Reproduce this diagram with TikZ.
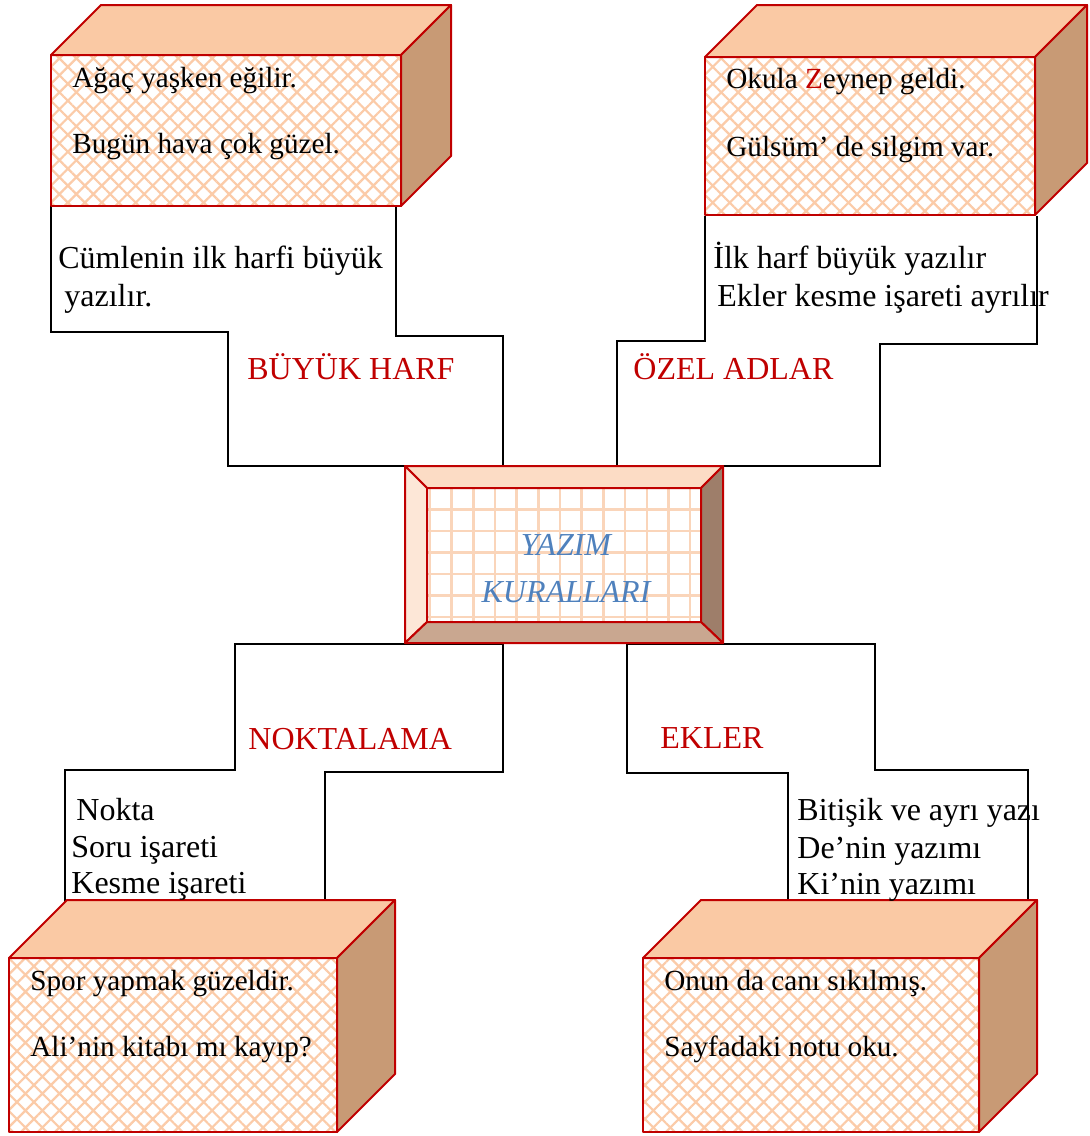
\documentclass[tikz,border=0pt]{standalone}
\usepackage{fontspec}
\setmainfont{Liberation Serif}
\usepackage{tikz}
\usetikzlibrary{patterns.meta}

\definecolor{kirmizi}{HTML}{C00000}
\definecolor{ust}{HTML}{FAC9A4}
\definecolor{yan}{HTML}{C89A75}
\definecolor{desenrenk}{HTML}{FBCBA8}
\definecolor{mavi}{HTML}{4F81BD}
\definecolor{cerceveust}{HTML}{FCDCC5}
\definecolor{cercevesol}{HTML}{FDE7D7}
\definecolor{cercevesag}{HTML}{9E7E6A}
\definecolor{cercevealt}{HTML}{C9A790}
\definecolor{izgararenk}{HTML}{FAD5BA}

% kutu: sol ust kose, sag alt kose, derinlik
\newcommand{\kutu}[5]{%
  \fill[white] (#1,#2) rectangle (#3,#4);
  \fill[pattern={Hatch[angle=45,distance=6pt,line width=1.1pt]}, pattern color=desenrenk] (#1,#2) rectangle (#3,#4);
  \draw[kenar] (#1,#2) rectangle (#3,#4);
  \filldraw[kenar, fill=ust] (#1,#2) -- ({#1+#5},{#2-#5}) -- ({#3+#5},{#2-#5}) -- (#3,#2) -- cycle;
  \filldraw[kenar, fill=yan] (#3,#2) -- ({#3+#5},{#2-#5}) -- ({#3+#5},{#4-#5}) -- (#3,#4) -- cycle;
}

\begin{document}
\begin{tikzpicture}[x=0.5pt, y=-0.5pt,
    kenar/.style={draw=kirmizi, line width=1pt, line join=round},
    hat/.style={draw=black, line width=0.8pt},
    yazi/.style={anchor=base west, inner sep=0pt, font=\fontsize{16}{19}\selectfont},
    ornek/.style={yazi, font=\fontsize{14.6}{17}\selectfont},
    baslik/.style={yazi, text=kirmizi},
    izgara/.style={draw=izgararenk, line width=1.2pt}]
   \useasboundingbox (0,0) rectangle (1090,1136);

   % basamakli hatlar
   \draw[hat] (51,206) -- (51,332) -- (228,332) -- (228,466) -- (503,466) -- (503,336) -- (396,336) -- (396,206);
   \draw[hat] (705,216) -- (705,341) -- (617,341) -- (617,466) -- (880,466) -- (880,344) -- (1037,344) -- (1037,216);
   \draw[hat] (65,905) -- (65,770) -- (235,770) -- (235,644) -- (503,644) -- (503,772) -- (325,772) -- (325,905);
   \draw[hat] (788,905) -- (788,773) -- (627,773) -- (627,644) -- (875,644) -- (875,770) -- (1028,770) -- (1028,905);

   % kutular
   \kutu{51}{55}{401}{206}{50}
   \kutu{705}{57}{1035}{215}{52}
   \kutu{9}{958}{337}{1132}{58}
   \kutu{643}{958}{979}{1132}{58}

   % orta cerceve
   \fill[white] (427,488) rectangle (701,622);
   \begin{scope}
     \clip (427,488) rectangle (701,622);
     \foreach \i in {0,...,12}
       \draw[izgara] ({430+21.67*\i},488) -- ({430+21.67*\i},622);
     \foreach \j in {0,...,6}
       \draw[izgara] (427,{488+21.5*\j}) -- (701,{488+21.5*\j});
   \end{scope}
   \filldraw[kenar, fill=cerceveust] (405,466) -- (723,466) -- (701,488) -- (427,488) -- cycle;
   \filldraw[kenar, fill=cercevesol] (405,466) -- (427,488) -- (427,622) -- (405,643) -- cycle;
   \filldraw[kenar, fill=cercevesag] (723,466) -- (723,643) -- (701,622) -- (701,488) -- cycle;
   \filldraw[kenar, fill=cercevealt] (405,643) -- (723,643) -- (701,622) -- (427,622) -- cycle;
   \draw[kenar] (427,488) rectangle (701,622);
   \node[anchor=base, inner sep=0pt, text=mavi, font=\fontsize{16}{19}\selectfont\itshape] (yazim) at (566,555) {YAZIM};
   \node[anchor=base, inner sep=0pt, text=mavi, font=\fontsize{16}{19}\selectfont\itshape] (kurallari) at (566,602) {KURALLARI};

   % ornek cumleler
   \node[ornek] (agac) at (72,87) {Ağaç yaşken eğilir.};
   \node[ornek] (bugun) at (72,153) {Bugün hava çok güzel.};
   \node[ornek] (okula) at (726,88) {Okula \textcolor{kirmizi}{Z}eynep geldi.};
   \node[ornek] (gulsum) at (726,156) {Gülsüm’ de silgim var.};
   \node[ornek] (spor) at (30,990) {Spor yapmak güzeldir.};
   \node[ornek] (ali) at (30,1056) {Ali’nin kitabı mı kayıp?};
   \node[ornek] (onun) at (664,990) {Onun da canı sıkılmış.};
   \node[ornek] (sayfa) at (664,1056) {Sayfadaki notu oku.};

   % kurallar
   \node[yazi] (cumle1) at (58,268) {Cümlenin ilk harfi büyük};
   \node[yazi] (cumle2) at (64,306) {yazılır.};
   \node[yazi] (ozel1) at (713,268) {İlk harf büyük yazılır};
   \node[yazi] (ozel2) at (717,306) {Ekler kesme işareti ayrılır};
   \node[yazi] (nokta) at (76,820) {Nokta};
   \node[yazi] (soru) at (71,857) {Soru işareti};
   \node[yazi] (kesme) at (71,893) {Kesme işareti};
   \node[yazi] (bitisik) at (797,820) {Bitişik ve ayrı yazı};
   \node[yazi] (de) at (797,858) {De’nin yazımı};
   \node[yazi] (ki) at (797,894) {Ki’nin yazımı};

   % basliklar
   \node[baslik] (buyuk) at (247,379) {BÜYÜK HARF};
   \node[baslik] (ozel) at (633,379) {ÖZEL ADLAR};
   \node[baslik] (noktalama) at (248,749) {NOKTALAMA};
   \node[baslik] (ekler) at (660,748) {EKLER};
\end{tikzpicture}
\end{document}
